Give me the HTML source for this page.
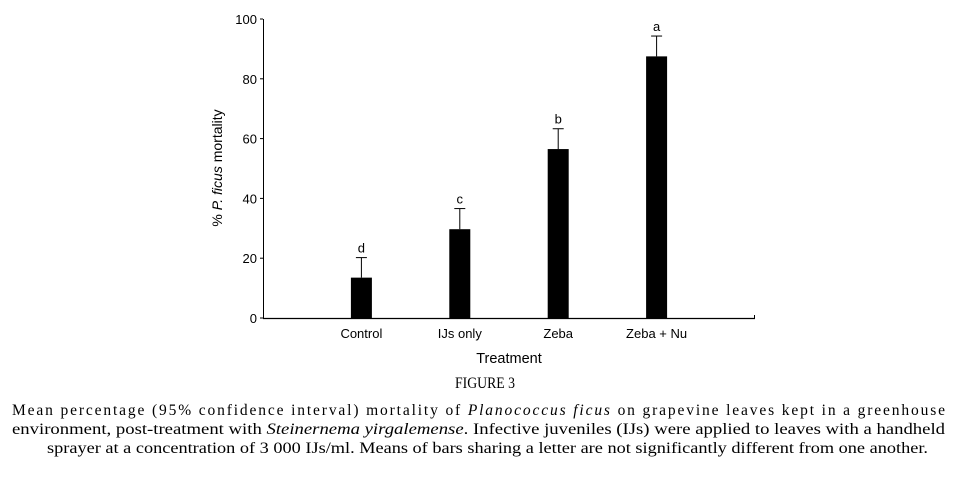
<!DOCTYPE html>
<html><head><meta charset="utf-8"><style>
html,body{margin:0;padding:0;background:#fff;}
svg{display:block;}
text{font-family:"Liberation Sans",Arial,sans-serif;fill:#000;}
.serif{font-family:"Liberation Serif","Times New Roman",serif;}
</style></head><body>
<svg id="chart" width="955" height="477" viewBox="0 0 955 477" xmlns="http://www.w3.org/2000/svg">
<g id="plot"></g>
<text transform="translate(222,168) rotate(-90)" text-anchor="middle" font-size="14">% <tspan font-style="italic">P. ficus</tspan> mortality</text>
<text x="509" y="363" text-anchor="middle" font-size="14.5">Treatment</text>
<text class="serif" x="485" y="388" text-anchor="middle" font-size="16" textLength="60" lengthAdjust="spacingAndGlyphs">FIGURE 3</text>
<text class="serif" x="12" y="415" font-size="15.5" textLength="933" lengthAdjust="spacing">Mean percentage (95% confidence interval) mortality of <tspan font-style="italic">Planococcus ficus</tspan> on grapevine leaves kept in a greenhouse</text>
<text class="serif" x="12" y="434" font-size="15.5" textLength="933" lengthAdjust="spacingAndGlyphs">environment, post-treatment with <tspan font-style="italic">Steinernema yirgalemense</tspan>. Infective juveniles (IJs) were applied to leaves with a handheld</text>
<text class="serif" x="47" y="453" font-size="15.5" textLength="881" lengthAdjust="spacingAndGlyphs">sprayer at a concentration of 3 000 IJs/ml. Means of bars sharing a letter are not significantly different from one another.</text>
</svg>
<script>
const categories = ["Control", "IJs only", "Zeba", "Zeba + Nu"];
const means = [13.5, 29.7, 56.5, 87.5];
const upperCI = [20.2, 36.6, 63.3, 94.3];
const letters = ["d", "c", "b", "a"];
const yTicks = [0, 20, 40, 60, 80, 100];

const NS = "http://www.w3.org/2000/svg";
const g = document.getElementById("plot");
const X0 = 263, X1 = 755, Y0 = 318, Y100 = 19;
function y(v){ return Y0 - (Y0 - Y100) * v / 100; }
function x(i){ return X0 + (X1 - X0) * (i + 1) / (categories.length + 1); }
function el(tag, attrs){ const e = document.createElementNS(NS, tag); for (const k in attrs) e.setAttribute(k, attrs[k]); g.appendChild(e); return e; }

let a = el("line", {x1:X0+0.5, y1:Y100, x2:X0+0.5, y2:Y0+1, stroke:"#000", "stroke-width":1});


a = el("line", {x1:X0, y1:Y0+0.5, x2:X1, y2:Y0+0.5, stroke:"#000", "stroke-width":1.3});


a = el("line", {x1:X1-0.5, y1:Y0-3, x2:X1-0.5, y2:Y0+1, stroke:"#000", "stroke-width":1});



yTicks.forEach(t => {
  const tk = el("line", {x1:X0-3, y1:y(t), x2:X0, y2:y(t), stroke:"#000"});
  
  
  const lb = el("text", {x:X0-6, y:y(t)+5, "text-anchor":"end", "font-size":13});
  lb.textContent = t;
  
  
});

categories.forEach((c, i) => {
  const cx = x(i), bw = 21;
  const bar = el("rect", {x:cx-bw/2, y:y(means[i]), width:bw, height:Y0-y(means[i]), fill:"#000"});
  
  
  const eb = el("line", {x1:cx, y1:y(means[i]), x2:cx, y2:y(upperCI[i]), stroke:"#000", "stroke-width":1});
  
  
  const cap = el("line", {x1:cx-5.5, y1:y(upperCI[i]), x2:cx+5.5, y2:y(upperCI[i]), stroke:"#000", "stroke-width":1});
  
  
  const lt = el("text", {x:cx, y:y(upperCI[i])-5, "text-anchor":"middle", "font-size":13});
  lt.textContent = letters[i];
  
  
  const cl = el("text", {x:cx, y:338, "text-anchor":"middle", "font-size":13});
  cl.textContent = c;
  
  
});
</script>
</body></html>
